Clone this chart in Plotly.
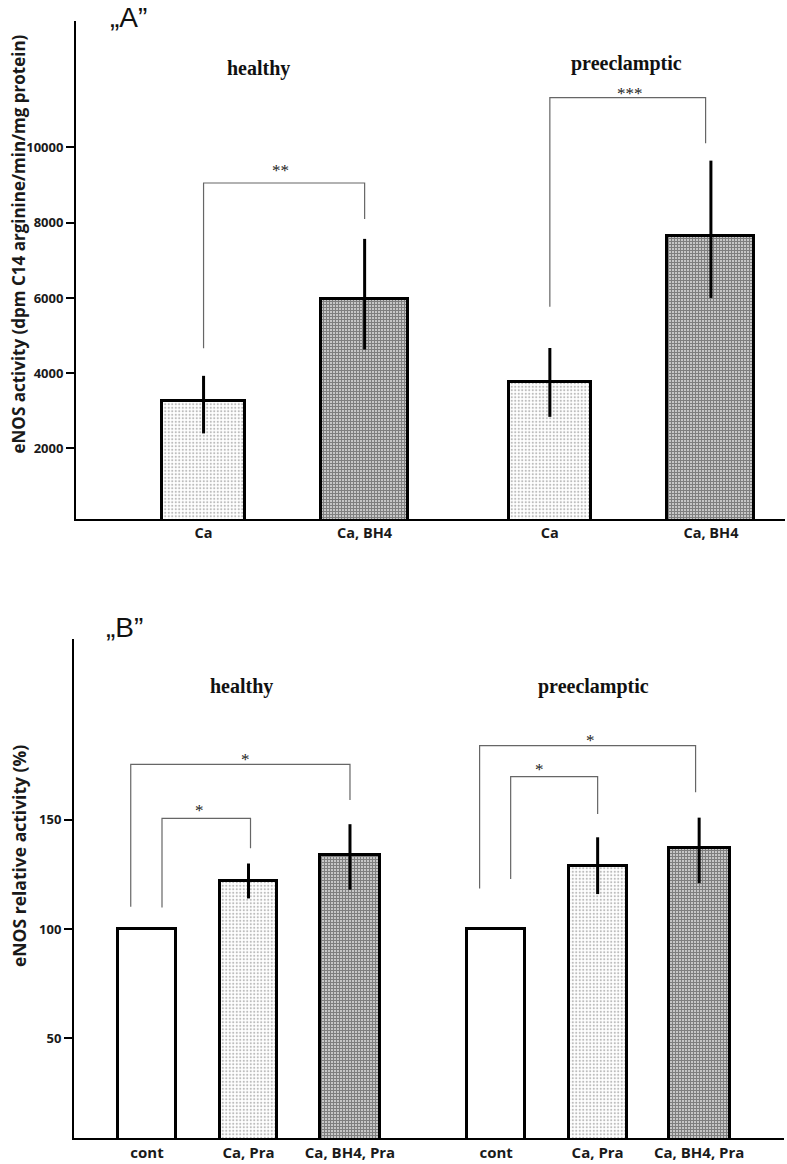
import plotly.graph_objects as go

# ---- panel A: eNOS activity ----
a_groups = ["healthy", "healthy", "preeclamptic", "preeclamptic"]
a_labels = ["Ca", "Ca, BH4", "Ca", "Ca, BH4"]
a_mean = [3270, 5960, 3760, 7650]
a_err_plus = [660, 1610, 910, 2000]
a_err_minus = [870, 1330, 920, 1650]
a_ticks = [2000, 4000, 6000, 8000, 10000]
a_sig = ["**", "***"]

# ---- panel B: relative activity ----
b_groups = ["healthy"] * 3 + ["preeclamptic"] * 3
b_labels = ["cont", "Ca, Pra", "Ca, BH4, Pra", "cont", "Ca, Pra", "Ca, BH4, Pra"]
b_mean = [100, 122, 134, 100, 129, 137]
b_err_plus = [0, 8, 14, 0, 13, 14]
b_err_minus = [0, 8, 16, 0, 13, 16]
b_ticks = [50, 100, 150]
b_sig = ["*", "*", "*", "*"]

# bar slots: one per bar, second group shifted right
a_pos = [i + 1 + (0.15 if g == "preeclamptic" else 0) for i, g in enumerate(a_groups)]
b_pos = [i + 1 + (0.44 if g == "preeclamptic" else 0) for i, g in enumerate(b_groups)]

# fill style per treatment
FILLS = {
    "plain": dict(shape="", fgcolor="white", size=4, solidity=0.3),
    "dots": dict(shape=".", fgcolor="#7a7a7a", size=3.5, solidity=0.3),
    "grid": dict(shape="+", fgcolor="#000000", size=3, solidity=0.75),
}


def fill_of(label):
    if label == "cont":
        return "plain"
    return "grid" if "BH4" in label else "dots"


TICKFONT = dict(family="Open Sans", size=13, color="#1a1a1a", weight="bold")
SERIF = "Liberation Serif"
GRAY = "#666666"

fig = go.Figure()


def add_bars(pos, labels, mean, ep, em, xa, ya, width):
    for kind, pat in FILLS.items():
        idx = [i for i, l in enumerate(labels) if fill_of(l) == kind]
        if not idx:
            continue
        fig.add_trace(go.Bar(
            x=[pos[i] for i in idx], y=[mean[i] for i in idx], xaxis=xa, yaxis=ya,
            width=width if kind != "grid" else width + 0.03,
            marker=dict(color="white", line=dict(color="black", width=3), pattern=pat),
            error_y=dict(type="data", symmetric=False, array=[ep[i] for i in idx],
                         arrayminus=[em[i] for i in idx], color="black", thickness=3, width=0),
            showlegend=False, hoverinfo="y"))


add_bars(a_pos, a_labels, a_mean, a_err_plus, a_err_minus, "x", "y", 0.51)
add_bars(b_pos, b_labels, b_mean, b_err_plus, b_err_minus, "x2", "y2", 0.57)

# significance brackets: (left x, right x, line level, left foot, right foot, star x, star y)
a_brackets = [
    (a_pos[0], a_pos[1], 9055, 4662, 8098, 1.475, 9462),
    (a_pos[2], 4.117, 11322, 5767, 10110, 3.649, 11508),
]
b_brackets = [
    (0.84, b_pos[2], 175.4, 110.2, 159.1, 1.972, 178.9),
    (1.148, 2.02, 150.7, 109.9, 137.0, 1.522, 155.3),
    (4.277, 6.405, 184.0, 118.6, 162.6, 5.374, 187.6),
    (4.583, b_pos[4], 169.8, 122.9, 152.7, 4.869, 174.3),
]

shapes, annotations = [], []
for (xr, yr, brackets, stars) in [("x", "y", a_brackets, a_sig), ("x2", "y2", b_brackets, b_sig)]:
    for (x0, x1, lvl, f0, f1, sx, sy), star in zip(brackets, stars):
        shapes.append(dict(type="path", xref=xr, yref=yr,
                           path=f"M {x0},{f0} L {x0},{lvl} L {x1},{lvl} L {x1},{f1}",
                           line=dict(color=GRAY, width=1.2)))
        annotations.append(dict(xref=xr, yref=yr, x=sx, y=sy, text=star, showarrow=False,
                                xanchor="center", yanchor="middle", yshift=-2.5,
                                font=dict(family=SERIF, size=17, color="#222222")))

# group labels
for txt, px, py in [("healthy", 258, 70.7), ("preeclamptic", 626.7, 65),
                    ("healthy", 242, 688.3), ("preeclamptic", 593.3, 688.3)]:
    annotations.append(dict(xref="paper", yref="paper", x=px / 787, y=1 - py / 1164,
                            text=f"<b>{txt}</b>", showarrow=False,
                            xanchor="center", yanchor="middle", yshift=2,
                            font=dict(family=SERIF, size=20, color="#111111")))

# panel letters
for txt, px, py in [("\u201eA\u201d", 108, 0), ("\u201eB\u201d", 104, 610)]:
    annotations.append(dict(xref="paper", yref="paper", x=px / 787, y=1 - py / 1164,
                            xanchor="left", yanchor="top", text=txt, showarrow=False,
                            font=dict(family="Liberation Sans", size=28, color="#111111")))

# y-axis titles
for txt, px, py, sz in [("eNOS activity (dpm C14 arginine/min/mg protein)", 18, 244.5, 17),
                        ("eNOS relative activity (%)", 19, 856, 17.5)]:
    annotations.append(dict(xref="paper", yref="paper", x=px / 787, y=1 - py / 1164,
                            text=txt, textangle=-90, showarrow=False,
                            xanchor="center", yanchor="middle",
                            font=dict(family="Open Sans", size=sz, color="#1a1a1a", weight="bold")))

axis_common = dict(showgrid=False, zeroline=False, showline=True, linecolor="black",
                   linewidth=2, automargin=False)

fig.update_layout(
    width=787, height=1164,
    margin=dict(l=0, r=0, t=0, b=0),
    paper_bgcolor="white", plot_bgcolor="white",
    barmode="overlay", bargap=0,
    xaxis=dict(domain=[76 / 787, 785 / 787], range=[0.208, 4.61], anchor="y",
               tickvals=a_pos, ticktext=a_labels, ticks="",
               tickfont=dict(family="Open Sans", size=14.5, color="#1a1a1a", weight="bold"),
               **axis_common),
    yaxis=dict(domain=[1 - 519 / 1164, 1 - 21 / 1164], range=[125, 13361], anchor="x",
               tickvals=a_ticks, tickformat="d", ticks="outside", ticklen=8, tickwidth=2,
               tickcolor="black", tickfont=TICKFONT, **axis_common),
    xaxis2=dict(domain=[74 / 787, 784 / 787], range=[0.281, 7.276], anchor="y2",
                tickvals=b_pos, ticktext=b_labels, ticks="",
                tickfont=dict(family="Open Sans", size=15, color="#1a1a1a", weight="bold"),
                **axis_common),
    yaxis2=dict(domain=[1 - 1138 / 1164, 1 - 639 / 1164], range=[4.3, 232.8], anchor="x2",
                tickvals=b_ticks, ticks="outside", ticklen=8, tickwidth=2, tickcolor="black",
                tickfont=TICKFONT, **axis_common),
    shapes=shapes,
    annotations=annotations,
)

# the page's default body margin would shift the fixed-size figure
fig.write_html("out.html", config={"displayModeBar": False},
               post_script="document.body.style.margin='0px';")
